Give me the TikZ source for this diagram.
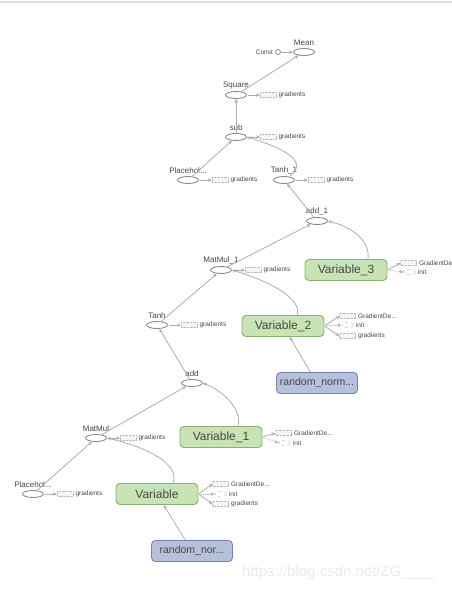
\documentclass[tikz,border=0pt]{standalone}
\usepackage{fontspec}
\setmainfont{Liberation Sans}
\usetikzlibrary{arrows.meta,positioning,shapes.geometric}
\definecolor{edgegray}{RGB}{172,172,172}
\definecolor{opline}{RGB}{140,140,140}
\definecolor{txtgray}{RGB}{70,70,70}
\definecolor{varfill}{RGB}{200,228,180}
\definecolor{varline}{RGB}{135,175,110}
\definecolor{rndfill}{RGB}{182,192,218}
\definecolor{rndline}{RGB}{120,130,165}
\tikzset{
  op/.style     ={ellipse,draw=opline,fill=white,line width=0.9pt,minimum width=21pt,minimum height=7pt,inner sep=0pt},
  oplbl/.style  ={font=\fontsize{8}{9}\selectfont,text=txtgray,inner sep=1pt},
  konst/.style  ={circle,draw=opline,fill=white,line width=0.8pt,minimum size=5pt,inner sep=0pt},
  var/.style    ={rectangle,rounded corners=4pt,draw=varline,fill=varfill,line width=0.9pt,minimum width=82pt,minimum height=21pt,font=\fontsize{12}{14}\selectfont,text=txtgray},
  rnd/.style    ={var,draw=rndline,fill=rndfill,minimum width=81pt,font=\fontsize{10.5}{12}\selectfont},
  gbox/.style   ={rectangle,draw=gray!55,densely dotted,fill=gray!8,minimum width=16pt,minimum height=5pt,inner sep=0pt},
  ibox/.style   ={ellipse,draw=gray!55,dashed,fill=white,minimum width=12pt,minimum height=5pt,inner sep=0pt},
  auxtxt/.style ={font=\fontsize{6.5}{7}\selectfont,text=txtgray,inner sep=1pt},
  flow/.style   ={-{Stealth[length=4pt,width=3.5pt]},draw=edgegray,line width=0.8pt},
  auxflow/.style={flow,shorten <=1pt},
  wmark/.style  ={font=\fontsize{15}{16}\selectfont,text=gray!16,inner sep=0pt},
}
\begin{document}
\begin{tikzpicture}[x=1pt,y=-1pt]
  \useasboundingbox (0,0) rectangle (452,592);
  \draw[gray!25,line width=2pt] (0,2) -- (452,2);
  % ops, top to bottom
  \node[op,label={[oplbl,label distance=1pt]above:Mean}] (mean) at (304,52) {};
  \node[konst] (const) at (278,52) {};
  \node[auxtxt,left=1pt of const] (constt) {Const};
  \node[op,label={[oplbl,label distance=1pt]above:Square}] (square) at (236,95) {};
  \node[op,label={[oplbl,label distance=1pt]above:sub}] (sub) at (236,137) {};
  \node[op,label={[oplbl,label distance=1pt]above:Placehol...}] (phA) at (188,180) {};
  \node[op,label={[oplbl,label distance=1pt]above:Tanh\_1}] (tanhA) at (284,180) {};
  \node[op,label={[oplbl,label distance=1pt]above:add\_1}] (addA) at (317,221) {};
  \node[op,label={[oplbl,label distance=1pt]above:MatMul\_1}] (mmA) at (221,270) {};
  \node[var] (varC) at (346,270) {Variable\_3};
  \node[op,label={[oplbl,label distance=1pt]above:Tanh}] (tanh) at (157,325) {};
  \node[var] (varB) at (283,326) {Variable\_2};
  \node[rnd] (rndB) at (317,383) {random\_norm...};
  \node[op,label={[oplbl,label distance=1pt]above:add}] (add) at (192,383) {};
  \node[op,label={[oplbl,label distance=1pt]above:MatMul}] (mm) at (96,438) {};
  \node[var] (varA) at (221,437) {Variable\_1};
  \node[op,label={[oplbl,label distance=1pt]above:Placehol...}] (ph) at (33,494) {};
  \node[var] (var) at (157,494) {Variable};
  \node[rnd] (rnd) at (192,551) {random\_nor...};

  % gradients side nodes
  \foreach \n in {square,sub,phA,tanhA,mmA,tanh,mm,ph}{
    \node[gbox,right=13pt of \n] (\n-g) {};
    \node[auxtxt,right=1pt of \n-g] (\n-gt) {gradients};
    \draw[auxflow] (\n) -- (\n-g);
  }
  % variable side nodes
  \node[gbox,right=13pt of varC,yshift=7pt] (varC-gd) {};
  \node[auxtxt,right=1pt of varC-gd] (varC-gdt) {GradientDe};
  \node[ibox,right=16pt of varC,yshift=-2pt] (varC-in) {};
  \node[auxtxt,right=1pt of varC-in] (varC-int) {init};
  \node[gbox,right=15pt of varB,yshift=10pt] (varB-gd) {};
  \node[auxtxt,right=1pt of varB-gd] (varB-gdt) {GradientDe...};
  \node[ibox,right=17pt of varB,yshift=1pt] (varB-in) {};
  \node[auxtxt,right=1pt of varB-in] (varB-int) {init};
  \node[gbox,right=15pt of varB,yshift=-10pt] (varB-gr) {};
  \node[auxtxt,right=1pt of varB-gr] (varB-grt) {gradients};
  \node[gbox,right=13pt of varA,yshift=4pt] (varA-gd) {};
  \node[auxtxt,right=1pt of varA-gd] (varA-gdt) {GradientDe...};
  \node[ibox,right=16pt of varA,yshift=-6pt] (varA-in) {};
  \node[auxtxt,right=1pt of varA-in] (varA-int) {init};
  \node[gbox,right=14pt of var,yshift=10pt] (var-gd) {};
  \node[auxtxt,right=1pt of var-gd] (var-gdt) {GradientDe...};
  \node[ibox,right=16pt of var] (var-in) {};
  \node[auxtxt,right=1pt of var-in] (var-int) {init};
  \node[gbox,right=14pt of var,yshift=-10pt] (var-gr) {};
  \node[auxtxt,right=1pt of var-gr] (var-grt) {gradients};
  \foreach \v in {varC,varB,varA,var}{
    \draw[auxflow] (\v.east) -- (\v-gd.west);
    \draw[auxflow,densely dotted] (\v.east) -- (\v-in.west);
  }
  \foreach \v in {varB,var}
    \draw[auxflow] (\v.east) -- (\v-gr.west);

  % data flow
  \draw[flow] (const) -- (mean);
  \draw[flow] (square) -- (mean);
  \draw[flow] (sub) -- (square);
  \draw[flow] (phA) -- (sub);
  \draw[flow] ([xshift=6pt]tanhA.north) .. controls (307,163) and (290,150) .. (sub.east);
  \draw[flow] (addA) -- (tanhA);
  \draw[flow] (mmA) -- (addA);
  \draw[flow] ([xshift=22pt]varC.north) .. controls (370,242) and (355,228) .. (addA.east);
  \draw[flow] (tanh) -- (mmA);
  \draw[flow] ([xshift=14pt]varB.north) .. controls (302,300) and (275,283) .. (mmA.east);
  \draw[flow] (rndB) -- (varB);
  \draw[flow] (add) -- (tanh);
  \draw[flow] (mm) -- (add);
  \draw[flow] ([xshift=17pt]varA.north) .. controls (242,410) and (225,392) .. (add.east);
  \draw[flow] (ph) -- (mm);
  \draw[flow] ([xshift=16pt]var.north) .. controls (180,465) and (150,448) .. (mm.east);
  \draw[flow] (rnd) -- (var);

  \node[wmark,anchor=west] (wm) at (242,573) {https://blog.csdn.net/ZG\_\_\_\_};
\end{tikzpicture}
\end{document}
